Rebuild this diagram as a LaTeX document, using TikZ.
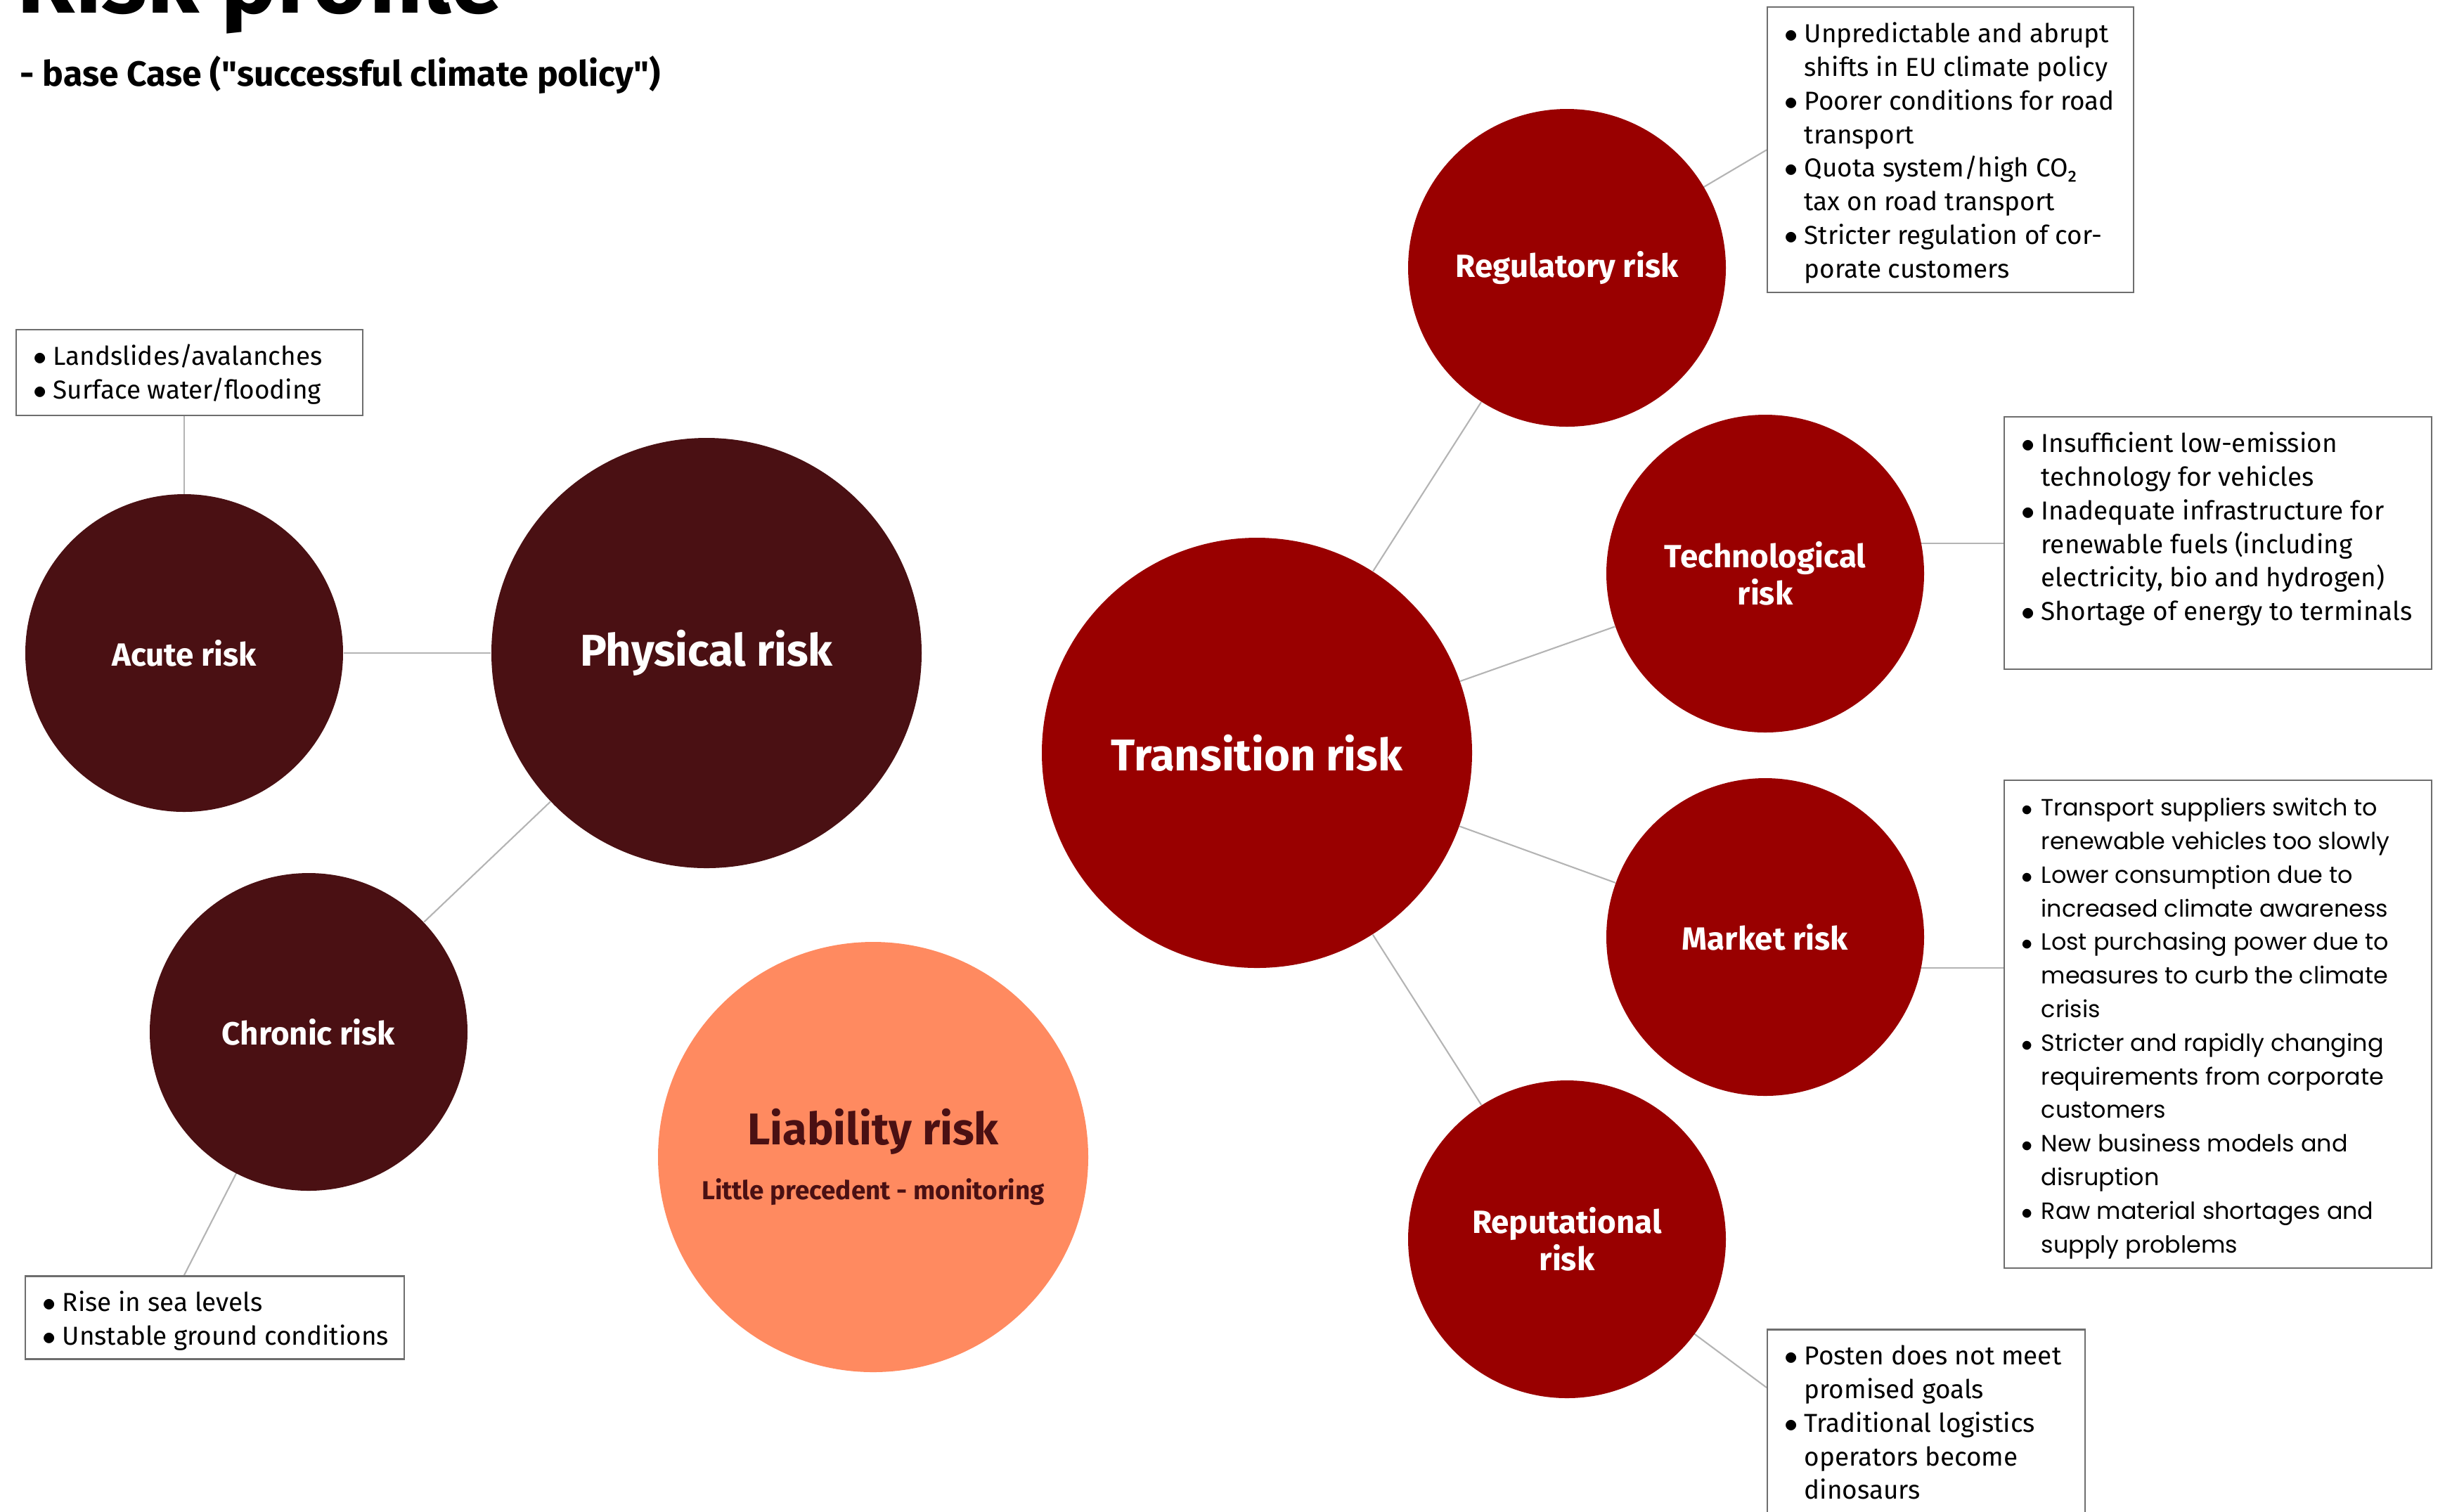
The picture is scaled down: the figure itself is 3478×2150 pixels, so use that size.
\documentclass[tikz,border=0pt]{standalone}
\usepackage{fontspec}
\setmainfont{Fira Sans}
\newfontfamily\marketfont{Poppins}
\usetikzlibrary{calc}
\pgfdeclarelayer{background}
\pgfsetlayers{background,main}

\definecolor{physred}{HTML}{4A1013}
\definecolor{transred}{HTML}{990000}
\definecolor{liabsalmon}{HTML}{FF8A60}
\definecolor{linkgray}{HTML}{B4B4B4}
\definecolor{boxgray}{HTML}{6E6E6E}

\tikzset{
  bigrisk/.style={circle, minimum size=61.2mm, inner sep=0pt, text=white,
    font=\fontsize{18}{21}\selectfont\bfseries, align=center},
  subrisk/.style={circle, minimum size=45.2mm, inner sep=0pt, text=white,
    font=\fontsize{13}{15}\selectfont\bfseries, align=center},
  infobox/.style={draw=boxgray, line width=0.7pt, fill=white, anchor=north west, inner sep=0pt},
  infotext/.style={anchor=north west, inner sep=0pt, font=\fontsize{10.5}{13.6}\selectfont},
  link/.style={draw=linkgray, line width=0.6pt}
}
\newcommand{\bl}{$\bullet$}

\begin{document}
\begin{tikzpicture}[x=0.1mm, y=-0.1mm]
  \useasboundingbox (0,0) rectangle (3478,2150);

  % Titles
  \node[anchor=base west, inner sep=0pt, font=\fontsize{38}{42}\selectfont\bfseries] (maintitle) at (24,18) {Risk profile};
  \node[anchor=base west, inner sep=0pt, font=\fontsize{14.2}{17}\selectfont\bfseries] (subtitle) at (28,122)
    {- base Case (\textquotedbl successful climate policy\textquotedbl)};

  % Physical risk and its branches
  \node[bigrisk, fill=physred] (phys) at (1005,929) {Physical risk};
  \node[subrisk, fill=physred] (acute) at (262,929) {Acute risk};
  \node[subrisk, fill=physred] (chronic) at (439,1468) {Chronic risk};

  % Liability risk
  \node[bigrisk, fill=liabsalmon, text=physred] (liab) at (1242,1646)
    {Liability risk\\[1pt]{\fontsize{10.5}{13}\selectfont Little precedent - monitoring}};

  % Transition risk and its branches
  \node[bigrisk, fill=transred] (trans) at (1788,1071) {Transition risk};
  \node[subrisk, fill=transred] (reg) at (2229,381) {Regulatory risk};
  \node[subrisk, fill=transred] (tech) at (2511,816) {Technological\\risk};
  \node[subrisk, fill=transred] (market) at (2511,1333) {Market risk};
  \node[subrisk, fill=transred] (rep) at (2229,1763) {Reputational\\risk};

  % Boxes
  \node[infobox, minimum width=49.3mm, minimum height=12.2mm] (acutebox) at (22,468) {};
  \node[infobox, minimum width=53.9mm, minimum height=11.8mm] (chronbox) at (35,1814) {};
  \node[infobox, minimum width=52.1mm, minimum height=40.6mm] (regbox) at (2513,9) {};
  \node[infobox, minimum width=60.8mm, minimum height=35.9mm] (techbox) at (2850,592) {};
  \node[infobox, minimum width=60.8mm, minimum height=69.4mm] (marketbox) at (2850,1109) {};
  \node[infobox, minimum width=45.2mm, minimum height=30mm] (repbox) at (2513,1890) {};

  % Box texts
  \node[infotext] (acutetext) at ([shift={(25,17.5)}]acutebox.north west) {%
    \begin{tabular}{@{}p{2.8mm}@{}l@{}}
      \bl & Landslides/avalanches\\
      \bl & Surface water/flooding
    \end{tabular}};
  \node[infotext] (chrontext) at ([shift={(25,17.5)}]chronbox.north west) {%
    \begin{tabular}{@{}p{2.8mm}@{}l@{}}
      \bl & Rise in sea levels\\
      \bl & Unstable ground conditions
    \end{tabular}};
  \node[infotext] (regtext) at ([shift={(25,17.5)}]regbox.north west) {%
    \begin{tabular}{@{}p{2.8mm}@{}l@{}}
      \bl & Unpredictable and abrupt\\
          & shifts in EU climate policy\\
      \bl & Poorer conditions for road\\
          & transport\\
      \bl & Quota system/high CO₂\\
          & tax on road transport\\
      \bl & Stricter regulation of cor-\\
          & porate customers
    \end{tabular}};
  \node[infotext] (techtext) at ([shift={(25,17.5)}]techbox.north west) {%
    \begin{tabular}{@{}p{2.8mm}@{}l@{}}
      \bl & Insufficient low-emission\\
          & technology for vehicles\\
      \bl & Inadequate infrastructure for\\
          & renewable fuels (including\\
          & electricity, bio and hydrogen)\\
      \bl & Shortage of energy to terminals
    \end{tabular}};
  \node[infotext, font=\marketfont\fontsize{9.5}{13.6}\selectfont] (markettext) at ([shift={(25,17.5)}]marketbox.north west) {%
    \begin{tabular}{@{}p{2.8mm}@{}l@{}}
      \bl & Transport suppliers switch to\\
          & renewable vehicles too slowly\\
      \bl & Lower consumption due to\\
          & increased climate awareness\\
      \bl & Lost purchasing power due to\\
          & measures to curb the climate\\
          & crisis\\
      \bl & Stricter and rapidly changing\\
          & requirements from corporate\\
          & customers\\
      \bl & New business models and\\
          & disruption\\
      \bl & Raw material shortages and\\
          & supply problems
    \end{tabular}};
  \node[infotext] (reptext) at ([shift={(25,17.5)}]repbox.north west) {%
    \begin{tabular}{@{}p{2.8mm}@{}l@{}}
      \bl & Posten does not meet\\
          & promised goals\\
      \bl & Traditional logistics\\
          & operators become\\
          & dinosaurs
    \end{tabular}};

  % Connectors
  \coordinate (chronpin) at ($(chronbox.north west)+(227,0)$);
  \coordinate (marketpin) at ($(marketbox.north west)+(0,268)$);
  \coordinate (reppin) at ($(repbox.north west)+(0,84)$);
  \begin{pgfonlayer}{background}
    \foreach \leaf in {reg,tech,market,rep}
      \draw[link] (trans) -- (\leaf);
    \draw[link] (phys) -- (acute);
    \draw[link] (phys) -- (chronic);
    \draw[link] (acute.center) -- (acute.center |- acutebox.south);
    \draw[link] (chronic.center) -- (chronpin);
    \draw[link] (reg.center) -- (regbox.west);
    \draw[link] (techbox.west) -- (techbox.west -| tech.center);
    \draw[link] (marketpin) -- (marketpin -| market.center);
    \draw[link] (rep.center) -- (reppin);
  \end{pgfonlayer}
\end{tikzpicture}
\end{document}
